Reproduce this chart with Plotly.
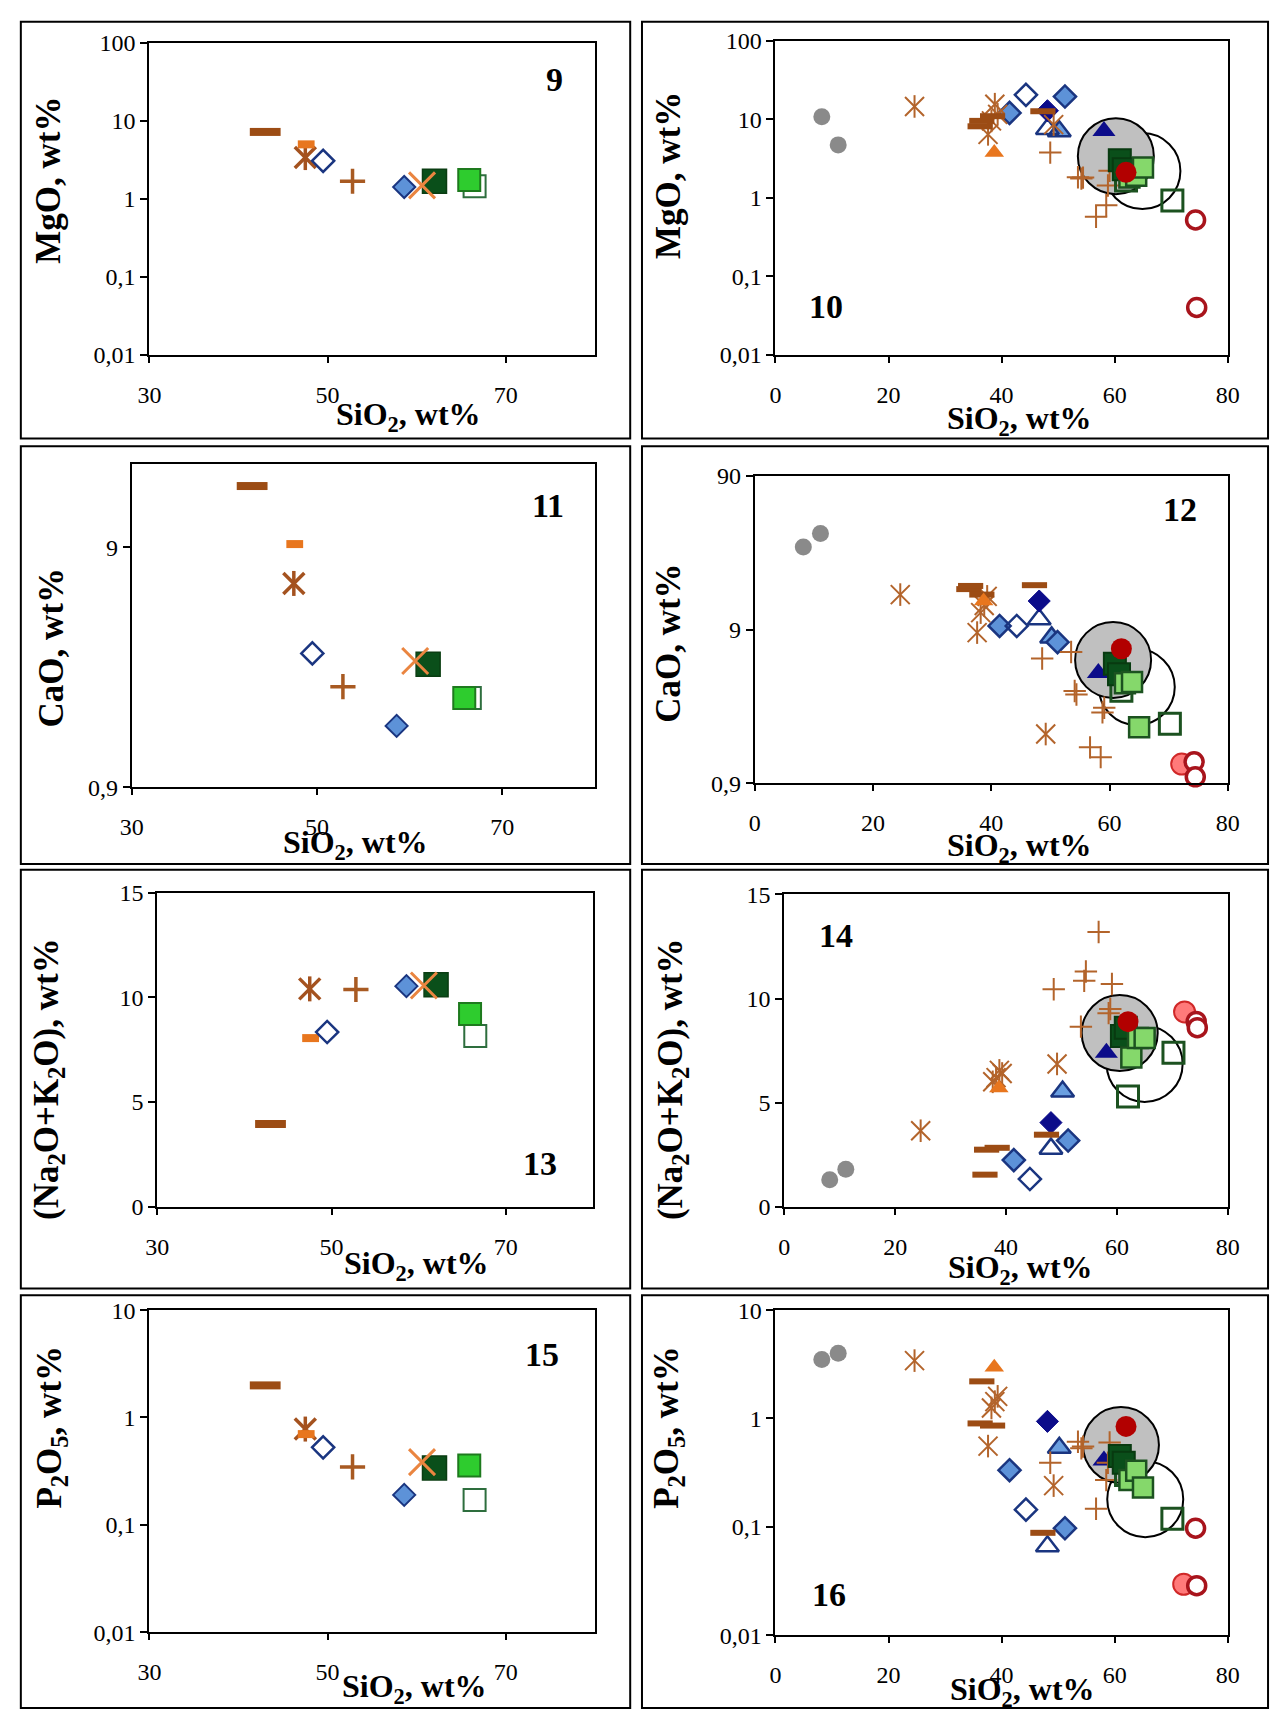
import math
import plotly.graph_objects as go

W, H = 1282, 1723

# ---------------- Left panels (9, 11, 13, 15): averaged compositions ----------------
LEFT_NAMES = ["dash_brown", "dash_orange", "asterisk", "dia_open", "plus",
              "dia_light", "sq_open", "sq_bright", "sq_dark", "x_orange"]
LEFT_SIO2 = [43.0, 47.6, 47.5, 49.5, 52.8, 58.6, 66.5, 65.9, 62.0, 60.6]
LEFT_MGO = [7.16, 4.96, 3.36, 3.05, 1.67, 1.41, 1.44, 1.74, 1.67, 1.48]
LEFT_CAO = [16.2, 9.28, 6.36, 3.25, 2.36, 1.62, 2.12, 2.12, 2.93, 3.02]
LEFT_ALK = [3.95, 8.05, 10.4, 8.34, 10.37, 10.53, 8.15, 9.2, 10.6, 10.56]
LEFT_P2O5 = [1.99, 0.70, 0.78, 0.527, 0.346, 0.19, 0.17, 0.357, 0.339, 0.384]

# ---------------- Right panels (10, 12, 14, 16): individual samples ----------------
GREY_SIO2 = [8.2, 11.1]
GREY_MGO = [10.7, 4.7]
GREY_CAO = [31, 38]
GREY_ALK = [1.3, 1.8]
GREY_P2O5 = [3.5, 4.0]

AST_SIO2 = [24.6, 37.6, 38.2, 38.8, 39.3, 49.2]
AST_MGO = [14.5, 6.4, 9.5, 15.5, 11.5, 8.5]
AST_CAO = [15.2, 8.6, 11.6, 12.9, 14.8, 1.88]
AST_ALK = [3.65, 6.0, 6.2, 6.55, 6.4, 6.86]
AST_P2O5 = [3.42, 0.556, 1.25, 1.43, 1.6, 0.24]

DASH_SIO2 = [36.2, 36.5, 38.4, 47.3]
DASH_MGO = [8.1, 9.5, 10.9, 12.6]
DASH_CAO = [16.5, 17.3, 15.2, 17.5]
DASH_ALK = [1.54, 2.74, 2.83, 3.46]
DASH_P2O5 = [0.9, 2.2, 0.86, 0.088]

TRI_OR_SIO2 = [38.7]
TRI_OR_MGO = [3.75]
TRI_OR_CAO = [13.8]
TRI_OR_ALK = [5.7]
TRI_OR_P2O5 = [2.97]

DIA_LIGHT_SIO2 = [41.4, 51.2]
DIA_LIGHT_MGO = [12.0, 19.4]
DIA_LIGHT_CAO = [9.5, 7.45]
DIA_LIGHT_ALK = [2.24, 3.18]
DIA_LIGHT_P2O5 = [0.333, 0.097]

DIA_OPEN_SIO2 = [44.3]
DIA_OPEN_MGO = [20.4]
DIA_OPEN_CAO = [9.5]
DIA_OPEN_ALK = [1.33]
DIA_OPEN_P2O5 = [0.144]

DIA_DARK_SIO2 = [48.1]
DIA_DARK_MGO = [12.8]
DIA_DARK_CAO = [13.8]
DIA_DARK_ALK = [4.04]
DIA_DARK_P2O5 = [0.94]

TRI_NAVY_SIO2 = [58.1]
TRI_NAVY_MGO = [7.05]
TRI_NAVY_CAO = [4.7]
TRI_NAVY_ALK = [7.4]
TRI_NAVY_P2O5 = [0.41]

TRI_LIGHT_SIO2 = [50.2]
TRI_LIGHT_MGO = [7.0]
TRI_LIGHT_CAO = [8.0]
TRI_LIGHT_ALK = [5.53]
TRI_LIGHT_P2O5 = [0.536]

TRI_OPEN_SIO2 = [48.1]
TRI_OPEN_MGO = [7.5]
TRI_OPEN_CAO = [10.5]
TRI_OPEN_ALK = [2.79]
TRI_OPEN_P2O5 = [0.066]

PLUS_SIO2 = [56.7, 54.4, 54.1, 59.1, 48.6, 58.8, 58.5, 53.5]
PLUS_MGO = [0.57, 1.8, 1.75, 2.2, 3.75, 1.43, 0.8, 1.82]
PLUS_CAO = [1.54, 3.4, 3.58, 2.79, 5.83, 2.6, 1.33, 6.43]
PLUS_ALK = [13.2, 11.3, 10.85, 10.7, 10.45, 9.5, 9.3, 8.65]
PLUS_P2O5 = [0.147, 0.55, 0.53, 0.60, 0.39, 0.39, 0.27, 0.61]

SQ_DARK_SIO2 = [60.9, 61.6]
SQ_DARK_MGO = [3.0, 2.3]
SQ_DARK_CAO = [5.4, 4.6]
SQ_DARK_ALK = [8.2, 8.6]
SQ_DARK_P2O5 = [0.45, 0.39]

SQ_LIGHT_SIO2 = [62.6, 63.8, 65.0]
SQ_LIGHT_MGO = [1.8, 1.9, 2.43]
SQ_LIGHT_CAO = [4.02, 4.1, 2.08]
SQ_LIGHT_ALK = [7.17, 8.1, 8.1]
SQ_LIGHT_P2O5 = [0.27, 0.33, 0.23]

SQ_OPEN_SIO2 = [62.0, 70.2]
SQ_OPEN_MGO = [1.65, 0.92]
SQ_OPEN_CAO = [3.6, 2.19]
SQ_OPEN_ALK = [5.29, 7.4]
SQ_OPEN_P2O5 = [0.3, 0.119]

CIRC_RED_SIO2 = [62.0]
CIRC_RED_MGO = [2.1]
CIRC_RED_CAO = [6.75]
CIRC_RED_ALK = [8.89]
CIRC_RED_P2O5 = [0.845]

CIRC_PINK_SIO2 = [72.2]
CIRC_PINK_MGO = [None]
CIRC_PINK_CAO = [1.2]
CIRC_PINK_ALK = [9.36]
CIRC_PINK_P2O5 = [0.0295]

CIRC_OPEN_SIO2 = [74.3, 74.5]
CIRC_OPEN_MGO = [0.52, 0.04]
CIRC_OPEN_CAO = [1.24, 0.99]
CIRC_OPEN_ALK = [8.9, 8.6]
CIRC_OPEN_P2O5 = [0.097, 0.0286]

# composition fields (one centre per panel: MgO, CaO, alkalis, P2O5)
FIELD_GREY_SIO2 = [60.2, 60.6, 60.5, 61.1]
FIELD_GREY_Y = [3.38, 5.7, 8.34, 0.568]
FIELD_OPEN_SIO2 = [64.9, 64.6, 65.0, 65.4]
FIELD_OPEN_Y = [2.18, 3.8, 6.86, 0.18]

# ---------------- styling ----------------
FONT = "Liberation Serif"
BROWN = "#b3642b"
BROWN_D = "#9c4c14"
ORANGE = "#e8761e"
ORANGE_X = "#ea8540"
NAVY = "#1a3580"
NAVY_F = "#0c0c8a"
LBLUE = "#5d92d8"
DGREEN = "#0a4f1a"
GREEN_L = "#85d86b"
GREEN_B = "#2ecc2e"
GREEN_LINE = "#1c5220"
RED = "#b20000"
PINK = "#ff7a7a"
RING = "#a8141c"

fig = go.Figure()


def add(ax, x, y, symbol, size, color, lcolor=None, lw=0):
    fig.add_trace(go.Scatter(
        x=x, y=y, mode="markers", xaxis=f"x{ax}", yaxis=f"y{ax}",
        showlegend=False, hoverinfo="skip", cliponaxis=False,
        marker=dict(symbol=symbol, size=size, color=color,
                    line=dict(color=lcolor if lcolor else color, width=lw))))


def star6(ax, x, y, size, color, lw):
    add(ax, x, y, "x-thin-open", size, color, color, lw)
    add(ax, x, y, "line-ns-open", size * 0.85, color, color, lw)


# left panels
left_y = {1: LEFT_MGO, 3: LEFT_CAO, 5: LEFT_ALK, 7: LEFT_P2O5}
for ax, vals in left_y.items():
    def pick(name):
        i = LEFT_NAMES.index(name)
        return [LEFT_SIO2[i]], [vals[i]]
    add(ax, *pick("dash_brown"), "line-ew-open", 22, BROWN_D, BROWN_D, 8)
    star6(ax, *pick("asterisk"), 21, "#a4521f", 3.5)
    add(ax, *pick("dash_orange"), "line-ew-open", 12, ORANGE, ORANGE, 8)
    add(ax, *pick("dia_open"), "diamond-open", 17, NAVY, NAVY, 2.5)
    add(ax, *pick("plus"), "cross-thin-open", 18, "#a85a22", "#a85a22", 3.5)
    add(ax, *pick("dia_light"), "diamond", 17, LBLUE, NAVY, 2)
    add(ax, *pick("sq_open"), "square-open", 22, "#2e6e3e", "#2e6e3e", 2)
    add(ax, *pick("sq_bright"), "square", 22, GREEN_B, "#1e7a1e", 2)
    add(ax, *pick("sq_dark"), "square", 24, DGREEN, "#0a3d12", 1.5)
    add(ax, *pick("x_orange"), "x-thin-open", 26, ORANGE_X, ORANGE_X, 3)

# right panels
right = {
    2: (GREY_MGO, AST_MGO, DASH_MGO, TRI_OR_MGO, DIA_LIGHT_MGO, DIA_OPEN_MGO, DIA_DARK_MGO,
        TRI_NAVY_MGO, TRI_LIGHT_MGO, TRI_OPEN_MGO, PLUS_MGO, SQ_DARK_MGO, SQ_LIGHT_MGO,
        SQ_OPEN_MGO, CIRC_RED_MGO, CIRC_PINK_MGO, CIRC_OPEN_MGO, 0),
    4: (GREY_CAO, AST_CAO, DASH_CAO, TRI_OR_CAO, DIA_LIGHT_CAO, DIA_OPEN_CAO, DIA_DARK_CAO,
        TRI_NAVY_CAO, TRI_LIGHT_CAO, TRI_OPEN_CAO, PLUS_CAO, SQ_DARK_CAO, SQ_LIGHT_CAO,
        SQ_OPEN_CAO, CIRC_RED_CAO, CIRC_PINK_CAO, CIRC_OPEN_CAO, 1),
    6: (GREY_ALK, AST_ALK, DASH_ALK, TRI_OR_ALK, DIA_LIGHT_ALK, DIA_OPEN_ALK, DIA_DARK_ALK,
        TRI_NAVY_ALK, TRI_LIGHT_ALK, TRI_OPEN_ALK, PLUS_ALK, SQ_DARK_ALK, SQ_LIGHT_ALK,
        SQ_OPEN_ALK, CIRC_RED_ALK, CIRC_PINK_ALK, CIRC_OPEN_ALK, 2),
    8: (GREY_P2O5, AST_P2O5, DASH_P2O5, TRI_OR_P2O5, DIA_LIGHT_P2O5, DIA_OPEN_P2O5, DIA_DARK_P2O5,
        TRI_NAVY_P2O5, TRI_LIGHT_P2O5, TRI_OPEN_P2O5, PLUS_P2O5, SQ_DARK_P2O5, SQ_LIGHT_P2O5,
        SQ_OPEN_P2O5, CIRC_RED_P2O5, CIRC_PINK_P2O5, CIRC_OPEN_P2O5, 3),
}
for ax, (g, ast, dash, tor, dl, do, dd, tn, tl, to, pl, sd, sl, so, cr, cp, co, k) in right.items():
    add(ax, [FIELD_OPEN_SIO2[k]], [FIELD_OPEN_Y[k]], "circle-open", 76, "black", "black", 2)
    add(ax, [FIELD_GREY_SIO2[k]], [FIELD_GREY_Y[k]], "circle", 76, "#c0c0c0", "black", 2)
    add(ax, GREY_SIO2, g, "circle", 17, "#8a8a8a", "#8a8a8a", 0)
    add(ax, TRI_LIGHT_SIO2, tl, "triangle-up", 20, "#6a9fe0", NAVY, 2.5)
    add(ax, TRI_OPEN_SIO2, to, "triangle-up-open", 20, NAVY, NAVY, 2.5)
    add(ax, DIA_LIGHT_SIO2, dl, "diamond", 17, LBLUE, NAVY, 2.5)
    add(ax, DIA_OPEN_SIO2, do, "diamond-open", 17, NAVY, NAVY, 2.5)
    add(ax, DIA_DARK_SIO2, dd, "diamond", 17, NAVY_F, NAVY_F, 1)
    star6(ax, AST_SIO2, ast, 19, BROWN, 2)
    add(ax, DASH_SIO2, dash, "line-ew-open", 18, BROWN_D, BROWN_D, 6)
    add(ax, TRI_OR_SIO2, tor, "triangle-up", 17, ORANGE, ORANGE, 0)
    add(ax, TRI_NAVY_SIO2, tn, "triangle-up", 20, NAVY_F, NAVY_F, 0)
    add(ax, PLUS_SIO2, pl, "cross-thin-open", 16, BROWN, BROWN, 2)
    add(ax, SQ_OPEN_SIO2, so, "square-open", 21, GREEN_LINE, GREEN_LINE, 3)
    add(ax, SQ_DARK_SIO2, sd, "square", 22, DGREEN, "#083a10", 2)
    add(ax, SQ_LIGHT_SIO2, sl, "square", 20, GREEN_L, GREEN_LINE, 2.5)
    add(ax, CIRC_PINK_SIO2, cp, "circle", 21, PINK, "#d02828", 2)
    add(ax, CIRC_OPEN_SIO2, co, "circle", 18, "white", RING, 3.5)
    add(ax, CIRC_RED_SIO2, cr, "circle", 21, RED, RED, 0)

# ---------------- layout (positions in window pixels) ----------------
def fx(px):
    return px / W


def fy(py):
    return 1 - py / H


AREAS = {1: (140, 594, 30, 347), 2: (778, 1239, 28, 347),
         3: (122, 594, 458, 786), 4: (757, 1239, 470, 782),
         5: (148, 592, 893, 1212), 6: (787, 1239, 895, 1212),
         7: (140, 594, 1317, 1644), 8: (778, 1239, 1317, 1647)}

Y_SPEC = {
    1: ("log", [-2, 2], [0.01, 0.1, 1, 10, 100], ["0,01", "0,1", "1", "10", "100"]),
    2: ("log", [-2, 2], [0.01, 0.1, 1, 10, 100], ["0,01", "0,1", "1", "10", "100"]),
    3: ("log", [math.log10(0.9), math.log10(20)], [0.9, 9], ["0,9", "9"]),
    4: ("log", [math.log10(0.9), math.log10(90)], [0.9, 9, 90], ["0,9", "9", "90"]),
    5: ("linear", [0, 15], [0, 5, 10, 15], ["0", "5", "10", "15"]),
    6: ("linear", [0, 15], [0, 5, 10, 15], ["0", "5", "10", "15"]),
    7: ("log", [-2, 1], [0.01, 0.1, 1, 10], ["0,01", "0,1", "1", "10"]),
    8: ("log", [-2, 1], [0.01, 0.1, 1, 10], ["0,01", "0,1", "1", "10"]),
}
XT_LEFT = [30, 50, 70]
XT_RIGHT = [0, 20, 40, 60, 80]

tickfont = dict(family=FONT, size=24, color="black")
layout = dict(width=W, height=H, margin=dict(l=0, r=0, t=0, b=0), autosize=False,
              paper_bgcolor="white", plot_bgcolor="white", showlegend=False)
for i, (x0, x1, yt, yb) in AREAS.items():
    sfx = "" if i == 1 else str(i)
    left = i % 2 == 1
    xt = XT_LEFT if left else XT_RIGHT
    layout["xaxis" + sfx] = dict(
        domain=[fx(x0), fx(x1)], anchor=f"y{i}", range=[30, 80] if left else [0, 80],
        tickvals=xt, ticktext=[str(v) for v in xt], ticks="outside", ticklen=6,
        tickwidth=1.5, tickcolor="black", linecolor="black", linewidth=2, mirror=True,
        showgrid=False, zeroline=False, tickfont=tickfont, ticklabelstandoff=11,
        fixedrange=True)
    typ, rng, tv, tt = Y_SPEC[i]
    layout["yaxis" + sfx] = dict(
        domain=[fy(yb), fy(yt)], anchor=f"x{i}", type=typ, range=rng,
        tickvals=tv, ticktext=tt, ticks="outside", ticklen=7, tickwidth=1.5,
        tickcolor="black", linecolor="black", linewidth=2, mirror=True,
        showgrid=False, zeroline=False, tickfont=tickfont, fixedrange=True)

# panel frames
BOX_X = [(9, 630), (642, 1280)]
BOX_Y = [(9, 432), (440, 864), (870, 1295), (1302, 1721)]
shapes = []
for (by0, by1) in BOX_Y:
    for (bx0, bx1) in BOX_X:
        shapes.append(dict(type="rect", xref="paper", yref="paper",
                           x0=fx(bx0), x1=fx(bx1), y0=fy(by1), y1=fy(by0),
                           line=dict(color="black", width=2), layer="below"))
layout["shapes"] = shapes

XTITLE = "SiO<sub>2</sub>, wt%"
YTITLES = {1: "MgO, wt%", 2: "MgO, wt%", 3: "CaO, wt%", 4: "CaO, wt%",
           5: "(Na<sub>2</sub>O+K<sub>2</sub>O), wt%", 6: "(Na<sub>2</sub>O+K<sub>2</sub>O), wt%",
           7: "P<sub>2</sub>O<sub>5</sub>, wt%", 8: "P<sub>2</sub>O<sub>5</sub>, wt%"}
PANEL_NUM = {1: "9", 2: "10", 3: "11", 4: "12", 5: "13", 6: "14", 7: "15", 8: "16"}

XT_POS = {1: (404, 410), 2: (1027, 414), 3: (350, 844), 4: (1027, 847),
          5: (412, 1272), 6: (1028, 1276), 7: (410, 1701), 8: (1030, 1704)}
YT_POS = {1: (37, 170), 2: (669, 165), 3: (40, 645), 4: (669, 640),
          5: (37, 1082), 6: (673, 1082), 7: (40, 1436), 8: (669, 1436)}
NUM_POS = {1: (553, 68), 2: (830, 298), 3: (546, 500), 4: (1190, 504),
           5: (538, 1168), 6: (840, 937), 7: (540, 1362), 8: (833, 1606)}

ann = []
xbold = dict(family=FONT, size=32, color="black")
ybold = dict(family=FONT, size=35, color="black")
for i in AREAS:
    px, py = XT_POS[i]
    ann.append(dict(text="<b>" + XTITLE + "</b>", x=fx(px), y=fy(py), xref="paper",
                    yref="paper", xanchor="center", yanchor="middle", showarrow=False,
                    font=xbold))
    px, py = YT_POS[i]
    ann.append(dict(text="<b>" + YTITLES[i] + "</b>", x=fx(px), y=fy(py), xref="paper",
                    yref="paper", xanchor="center", yanchor="middle", showarrow=False,
                    textangle=-90, font=ybold))
    px, py = NUM_POS[i]
    ann.append(dict(text="<b>" + PANEL_NUM[i] + "</b>", x=fx(px), y=fy(py),
                    xref="paper", yref="paper", xanchor="center", yanchor="middle",
                    showarrow=False, font=dict(family=FONT, size=34, color="black")))
layout["annotations"] = ann

fig.update_layout(**layout)

# pin the figure to the window's top-left corner so no page margin shifts it
PIN = ("var d=document.getElementById('{plot_id}');"
       "document.documentElement.style.margin='0';document.documentElement.style.padding='0';"
       "document.body.style.margin='0';document.body.style.padding='0';"
       "document.body.style.overflow='hidden';"
       "d.style.position='fixed';d.style.left='0px';d.style.top='0px';")
fig.write_html("out.html", config={"displayModeBar": False, "responsive": False},
               post_script=PIN)
